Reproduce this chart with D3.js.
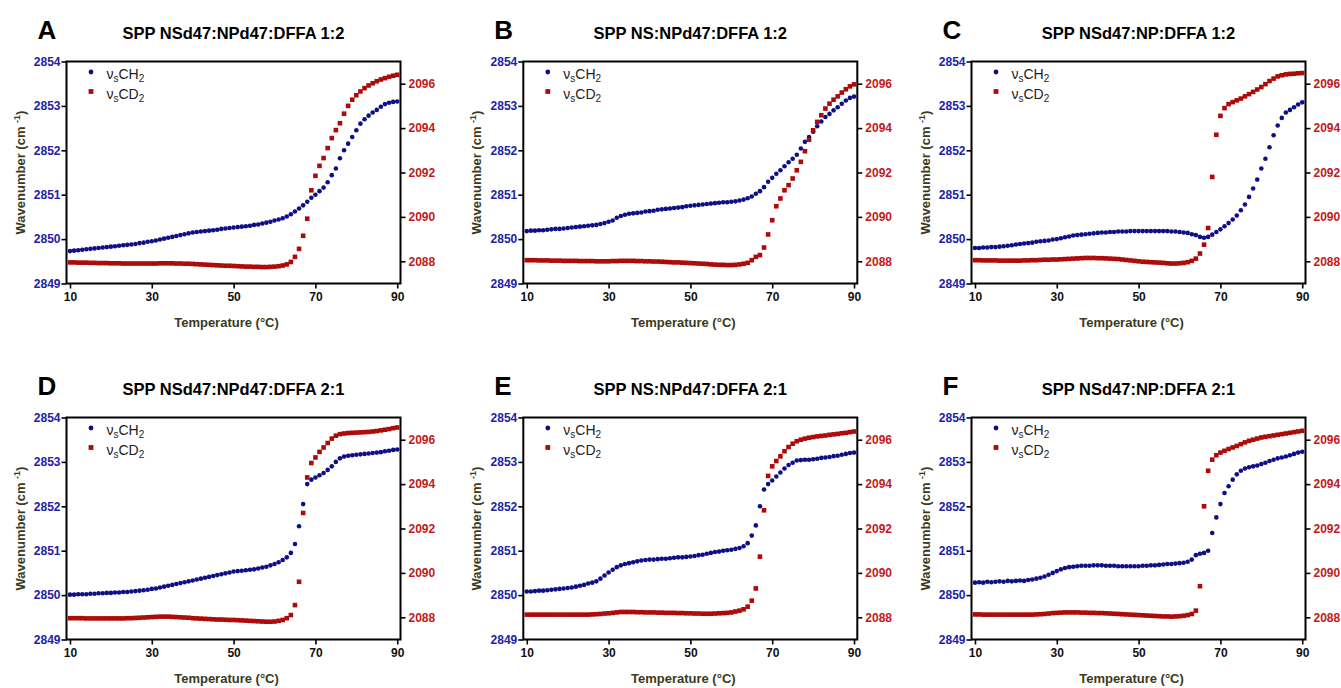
<!DOCTYPE html>
<html>
<head>
<meta charset="utf-8">
<script src="https://cdn.jsdelivr.net/npm/d3@7"></script>
<style>
  body { margin: 0; background: #fff; }
  svg { display: block; font-family: "Liberation Sans", Arial, sans-serif; }
</style>
</head>
<body>
<div id="chart"></div>
<script>
// temperatures (°C), shared by every panel
var temps = [10, 11, 12, 13, 14, 15, 16, 17, 18, 19, 20, 21, 22, 23, 24, 25, 26, 27, 28, 29,
  30, 31, 32, 33, 34, 35, 36, 37, 38, 39, 40, 41, 42, 43, 44, 45, 46, 47, 48, 49,
  50, 51, 52, 53, 54, 55, 56, 57, 58, 59, 60, 61, 62, 63, 64, 65, 66, 67, 68, 69,
  70, 71, 72, 73, 74, 75, 76, 77, 78, 79, 80, 81, 82, 83, 84, 85, 86, 87, 88, 89, 90];

// A: SPP NSd47:NPd47:DFFA 1:2
var aCH2 = [2849.73, 2849.74, 2849.75, 2849.76, 2849.77, 2849.78, 2849.79, 2849.80, 2849.81, 2849.82,
  2849.83, 2849.84, 2849.85, 2849.86, 2849.87, 2849.88, 2849.89, 2849.91, 2849.92, 2849.94,
  2849.95, 2849.97, 2849.99, 2850.01, 2850.03, 2850.05, 2850.07, 2850.09, 2850.11, 2850.13,
  2850.15, 2850.16, 2850.17, 2850.18, 2850.19, 2850.20, 2850.21, 2850.23, 2850.24, 2850.25,
  2850.26, 2850.27, 2850.28, 2850.29, 2850.30, 2850.32, 2850.33, 2850.35, 2850.37, 2850.39,
  2850.42, 2850.44, 2850.47, 2850.51, 2850.56, 2850.62, 2850.69, 2850.76, 2850.84, 2850.93,
  2851.00, 2851.08, 2851.16, 2851.28, 2851.44, 2851.59, 2851.82, 2852.00, 2852.15, 2852.30,
  2852.45, 2852.60, 2852.70, 2852.78, 2852.85, 2852.91, 2852.98, 2853.04, 2853.07, 2853.09, 2853.10];
var aCD2 = [2087.95, 2087.95, 2087.94, 2087.94, 2087.94, 2087.93, 2087.93, 2087.92, 2087.92, 2087.92,
  2087.91, 2087.91, 2087.91, 2087.90, 2087.90, 2087.90, 2087.90, 2087.90, 2087.90, 2087.90,
  2087.90, 2087.90, 2087.91, 2087.91, 2087.91, 2087.91, 2087.90, 2087.90, 2087.89, 2087.89,
  2087.88, 2087.87, 2087.86, 2087.85, 2087.84, 2087.83, 2087.82, 2087.81, 2087.80, 2087.80,
  2087.79, 2087.78, 2087.77, 2087.76, 2087.76, 2087.75, 2087.75, 2087.74, 2087.74, 2087.75,
  2087.76, 2087.78, 2087.81, 2087.86, 2087.97, 2088.20, 2088.56, 2089.15, 2089.92, 2091.20,
  2091.85, 2092.30, 2092.65, 2093.10, 2093.55, 2093.91, 2094.22, 2094.65, 2095.00, 2095.28,
  2095.48, 2095.65, 2095.80, 2095.92, 2096.02, 2096.11, 2096.19, 2096.25, 2096.31, 2096.36, 2096.40];

// B: SPP NS:NPd47:DFFA 1:2
var bCH2 = [2850.18, 2850.19, 2850.19, 2850.20, 2850.20, 2850.21, 2850.22, 2850.23, 2850.23, 2850.24,
  2850.25, 2850.26, 2850.27, 2850.28, 2850.29, 2850.30, 2850.31, 2850.32, 2850.34, 2850.36,
  2850.39, 2850.42, 2850.48, 2850.52, 2850.55, 2850.57, 2850.58, 2850.59, 2850.60, 2850.62,
  2850.63, 2850.64, 2850.66, 2850.67, 2850.68, 2850.69, 2850.70, 2850.71, 2850.72, 2850.74,
  2850.75, 2850.76, 2850.77, 2850.78, 2850.79, 2850.80, 2850.81, 2850.82, 2850.83, 2850.83,
  2850.84, 2850.85, 2850.87, 2850.89, 2850.92, 2850.96, 2851.02, 2851.08, 2851.17, 2851.29,
  2851.38, 2851.47, 2851.55, 2851.64, 2851.73, 2851.81, 2851.90, 2852.04, 2852.19, 2852.30,
  2852.42, 2852.54, 2852.65, 2852.75, 2852.82, 2852.90, 2852.97, 2853.05, 2853.12, 2853.18, 2853.21];
var bCD2 = [2088.05, 2088.05, 2088.05, 2088.04, 2088.04, 2088.04, 2088.03, 2088.03, 2088.03, 2088.02,
  2088.02, 2088.02, 2088.02, 2088.01, 2088.01, 2088.01, 2088.01, 2088.00, 2088.00, 2088.00,
  2088.00, 2088.01, 2088.01, 2088.02, 2088.02, 2088.02, 2088.02, 2088.01, 2088.01, 2088.00,
  2088.00, 2087.99, 2087.99, 2087.98, 2087.97, 2087.96, 2087.95, 2087.95, 2087.94, 2087.93,
  2087.92, 2087.91, 2087.90, 2087.89, 2087.88, 2087.86, 2087.85, 2087.84, 2087.84, 2087.83,
  2087.83, 2087.84, 2087.86, 2087.89, 2087.93, 2088.05, 2088.20, 2088.28, 2088.62, 2089.21,
  2089.85, 2090.48, 2090.83, 2091.20, 2091.43, 2091.73, 2092.10, 2092.48, 2092.96, 2093.48,
  2093.90, 2094.28, 2094.58, 2094.88, 2095.10, 2095.28, 2095.43, 2095.60, 2095.75, 2095.88, 2095.97];

// C: SPP NSd47:NP:DFFA 1:2
var cCH2 = [2849.80, 2849.80, 2849.81, 2849.81, 2849.82, 2849.82, 2849.83, 2849.84, 2849.85, 2849.86,
  2849.88, 2849.89, 2849.90, 2849.91, 2849.92, 2849.94, 2849.95, 2849.96, 2849.97, 2849.99,
  2850.00, 2850.02, 2850.04, 2850.06, 2850.08, 2850.09, 2850.10, 2850.11, 2850.12, 2850.13,
  2850.14, 2850.15, 2850.15, 2850.16, 2850.16, 2850.17, 2850.17, 2850.17, 2850.18, 2850.18,
  2850.18, 2850.18, 2850.18, 2850.18, 2850.18, 2850.18, 2850.18, 2850.18, 2850.17, 2850.17,
  2850.16, 2850.15, 2850.14, 2850.11, 2850.09, 2850.05, 2850.03, 2850.05, 2850.10, 2850.16,
  2850.22, 2850.29, 2850.36, 2850.44, 2850.53, 2850.65, 2850.78, 2850.95, 2851.14, 2851.34,
  2851.59, 2851.81, 2852.07, 2852.34, 2852.56, 2852.73, 2852.85, 2852.91, 2852.97, 2853.03, 2853.08];
var cCD2 = [2088.05, 2088.05, 2088.04, 2088.04, 2088.04, 2088.04, 2088.03, 2088.03, 2088.03, 2088.03,
  2088.03, 2088.03, 2088.04, 2088.04, 2088.05, 2088.05, 2088.06, 2088.07, 2088.07, 2088.08,
  2088.08, 2088.09, 2088.10, 2088.11, 2088.12, 2088.13, 2088.14, 2088.15, 2088.15, 2088.15,
  2088.14, 2088.14, 2088.13, 2088.12, 2088.11, 2088.10, 2088.08, 2088.06, 2088.04, 2088.02,
  2088.00, 2087.98, 2087.97, 2087.96, 2087.95, 2087.94, 2087.93, 2087.91, 2087.90, 2087.90,
  2087.91, 2087.93, 2087.96, 2088.02, 2088.12, 2088.35, 2088.75, 2089.50, 2091.80, 2093.70,
  2094.55, 2094.90, 2095.08, 2095.17, 2095.25, 2095.33, 2095.43, 2095.53, 2095.63, 2095.74,
  2095.85, 2095.98, 2096.12, 2096.23, 2096.33, 2096.38, 2096.42, 2096.44, 2096.45, 2096.47, 2096.48];

// D: SPP NSd47:NPd47:DFFA 2:1
var dCH2 = [2850.01, 2850.01, 2850.02, 2850.02, 2850.02, 2850.03, 2850.03, 2850.04, 2850.04, 2850.05,
  2850.05, 2850.06, 2850.06, 2850.07, 2850.07, 2850.08, 2850.09, 2850.10, 2850.11, 2850.12,
  2850.14, 2850.15, 2850.17, 2850.19, 2850.21, 2850.23, 2850.25, 2850.27, 2850.29, 2850.31,
  2850.33, 2850.35, 2850.37, 2850.39, 2850.41, 2850.43, 2850.45, 2850.47, 2850.49, 2850.51,
  2850.53, 2850.54, 2850.55, 2850.56, 2850.57, 2850.58, 2850.60, 2850.62, 2850.64, 2850.67,
  2850.70, 2850.74, 2850.79, 2850.85, 2850.95, 2851.15, 2851.55, 2852.05, 2852.50, 2852.60,
  2852.65, 2852.70, 2852.75, 2852.82, 2852.90, 2853.00, 2853.08, 2853.12, 2853.14, 2853.15,
  2853.16, 2853.17, 2853.18, 2853.19, 2853.20, 2853.21, 2853.22, 2853.24, 2853.25, 2853.27, 2853.28];
var dCD2 = [2087.96, 2087.96, 2087.96, 2087.96, 2087.95, 2087.95, 2087.95, 2087.95, 2087.95, 2087.95,
  2087.95, 2087.95, 2087.95, 2087.95, 2087.96, 2087.96, 2087.97, 2087.98, 2087.99, 2088.00,
  2088.01, 2088.02, 2088.03, 2088.03, 2088.03, 2088.02, 2088.01, 2088.00, 2087.99, 2087.98,
  2087.96, 2087.95, 2087.94, 2087.93, 2087.92, 2087.91, 2087.90, 2087.90, 2087.89, 2087.88,
  2087.88, 2087.87, 2087.86, 2087.85, 2087.84, 2087.83, 2087.82, 2087.81, 2087.80, 2087.80,
  2087.81, 2087.84, 2087.88, 2087.96, 2088.10, 2088.55, 2089.60, 2092.70, 2094.30, 2094.95,
  2095.20, 2095.45, 2095.65, 2095.85, 2096.05, 2096.18, 2096.25, 2096.28, 2096.30, 2096.31,
  2096.32, 2096.33, 2096.34, 2096.35, 2096.37, 2096.39, 2096.42, 2096.45, 2096.48, 2096.52, 2096.55];

// E: SPP NS:NPd47:DFFA 2:1
var eCH2 = [2850.08, 2850.08, 2850.09, 2850.10, 2850.10, 2850.11, 2850.12, 2850.13, 2850.14, 2850.15,
  2850.16, 2850.17, 2850.19, 2850.21, 2850.23, 2850.26, 2850.28, 2850.31, 2850.37, 2850.44,
  2850.51, 2850.57, 2850.63, 2850.67, 2850.70, 2850.72, 2850.74, 2850.76, 2850.78, 2850.79,
  2850.80, 2850.80, 2850.81, 2850.82, 2850.82, 2850.83, 2850.84, 2850.85, 2850.85, 2850.86,
  2850.87, 2850.88, 2850.90, 2850.91, 2850.93, 2850.95, 2850.97, 2850.98, 2851.00, 2851.01,
  2851.02, 2851.04, 2851.06, 2851.10, 2851.17, 2851.34, 2851.57, 2852.00, 2852.38, 2852.50,
  2852.58, 2852.67, 2852.76, 2852.85, 2852.93, 2852.98, 2853.03, 2853.04, 2853.05, 2853.05,
  2853.06, 2853.07, 2853.09, 2853.10, 2853.11, 2853.13, 2853.14, 2853.16, 2853.18, 2853.20, 2853.21];
var eCD2 = [2088.12, 2088.12, 2088.12, 2088.12, 2088.12, 2088.12, 2088.12, 2088.12, 2088.12, 2088.12,
  2088.12, 2088.12, 2088.12, 2088.12, 2088.12, 2088.12, 2088.13, 2088.14, 2088.15, 2088.17,
  2088.18, 2088.20, 2088.22, 2088.24, 2088.24, 2088.24, 2088.24, 2088.23, 2088.23, 2088.22,
  2088.22, 2088.22, 2088.21, 2088.21, 2088.20, 2088.20, 2088.20, 2088.19, 2088.19, 2088.18,
  2088.18, 2088.17, 2088.17, 2088.16, 2088.16, 2088.16, 2088.17, 2088.18, 2088.19, 2088.20,
  2088.22, 2088.26, 2088.30, 2088.36, 2088.48, 2088.75, 2089.30, 2090.73, 2092.82, 2094.37,
  2094.80, 2095.04, 2095.25, 2095.48, 2095.67, 2095.82, 2095.93, 2096.00, 2096.05, 2096.09,
  2096.12, 2096.15, 2096.17, 2096.19, 2096.22, 2096.24, 2096.26, 2096.29, 2096.31, 2096.34, 2096.37];

// F: SPP NSd47:NP:DFFA 2:1
var fCH2 = [2850.28, 2850.29, 2850.28, 2850.30, 2850.29, 2850.30, 2850.31, 2850.30, 2850.32, 2850.31,
  2850.32, 2850.33, 2850.32, 2850.34, 2850.35, 2850.37, 2850.39, 2850.42, 2850.46, 2850.50,
  2850.54, 2850.58, 2850.61, 2850.63, 2850.64, 2850.65, 2850.66, 2850.66, 2850.66, 2850.67,
  2850.67, 2850.67, 2850.66, 2850.66, 2850.66, 2850.65, 2850.65, 2850.65, 2850.65, 2850.65,
  2850.65, 2850.66, 2850.66, 2850.67, 2850.67, 2850.68, 2850.69, 2850.70, 2850.70, 2850.71,
  2850.72, 2850.73, 2850.75, 2850.80, 2850.90, 2850.93, 2850.95, 2851.00, 2851.40, 2851.75,
  2852.05, 2852.30, 2852.45, 2852.60, 2852.72, 2852.80, 2852.85, 2852.88, 2852.90, 2852.92,
  2852.95, 2852.98, 2853.02, 2853.05, 2853.08, 2853.10, 2853.12, 2853.15, 2853.18, 2853.21, 2853.23];
var fCD2 = [2088.13, 2088.13, 2088.12, 2088.12, 2088.12, 2088.12, 2088.12, 2088.12, 2088.12, 2088.12,
  2088.12, 2088.12, 2088.12, 2088.12, 2088.12, 2088.13, 2088.14, 2088.15, 2088.17, 2088.19,
  2088.20, 2088.21, 2088.22, 2088.22, 2088.22, 2088.22, 2088.21, 2088.21, 2088.20, 2088.20,
  2088.19, 2088.19, 2088.18, 2088.17, 2088.16, 2088.15, 2088.14, 2088.13, 2088.12, 2088.11,
  2088.10, 2088.09, 2088.08, 2088.07, 2088.06, 2088.05, 2088.04, 2088.04, 2088.03, 2088.04,
  2088.05, 2088.07, 2088.10, 2088.15, 2088.30, 2089.40, 2093.00, 2094.60, 2095.10, 2095.30,
  2095.42, 2095.50, 2095.58, 2095.65, 2095.72, 2095.80, 2095.88, 2095.95, 2096.00, 2096.05,
  2096.10, 2096.13, 2096.16, 2096.19, 2096.22, 2096.25, 2096.28, 2096.31, 2096.34, 2096.37, 2096.40];

var panelLetters = ["A", "B", "C", "D", "E", "F"];
var panelTitles = ["SPP NSd47:NPd47:DFFA 1:2", "SPP NS:NPd47:DFFA 1:2", "SPP NSd47:NP:DFFA 1:2",
  "SPP NSd47:NPd47:DFFA 2:1", "SPP NS:NPd47:DFFA 2:1", "SPP NSd47:NP:DFFA 2:1"];
var ch2Series = [aCH2, bCH2, cCH2, dCH2, eCH2, fCH2];
var cd2Series = [aCD2, bCD2, cCD2, dCD2, eCD2, fCD2];

var xTicks = [10, 30, 50, 70, 90];
var leftTicks = [2849, 2850, 2851, 2852, 2853, 2854];
var rightTicks = [2088, 2090, 2092, 2094, 2096];

var blue = "#0e0e86", red = "#ad0a0a";
var blueText = "#2222a8", redText = "#c21a1a", axisTitle = "#3a3a1c";

var W = 1341, H = 688;
var pw = 334, ph = 222;
var lefts = [66.5, 523.3, 971.5], tops = [61.5, 417.5];

var svg = d3.select("#chart").append("svg").attr("width", W).attr("height", H);

var x = d3.scaleLinear().domain([9.15, 90.8]).range([0, pw]);
var yL = d3.scaleLinear().domain([2849, 2854]).range([ph, 0]);
var yR = d3.scaleLinear().domain([2087, 2097]).range([ph, 0]);

panelTitles.forEach(function(title, i) {
  var col = i % 3, row = Math.floor(i / 3);
  var g = svg.append("g").attr("transform", "translate(" + lefts[col] + "," + tops[row] + ")");

  // letter + title
  g.append("text").attr("x", -29).attr("y", -22.5)
    .style("font-size", "26px").style("font-weight", "bold").text(panelLetters[i]);
  g.append("text").attr("x", pw / 2).attr("y", -22.5).attr("text-anchor", "middle")
    .style("font-size", "16.5px").style("font-weight", "bold").text(title);

  // axes
  var ax = g.append("g").attr("transform", "translate(0," + ph + ")")
    .call(d3.axisBottom(x).tickValues(xTicks).tickSize(5).tickPadding(4));
  ax.selectAll("text").style("font-size", "12px").style("font-weight", "bold").attr("fill", "#111");

  var al = g.append("g").call(d3.axisLeft(yL).tickValues(leftTicks).tickFormat(d3.format("d")).tickSize(5).tickPadding(1));
  al.selectAll("text").style("font-size", "12px").style("font-weight", "bold").attr("fill", blueText);

  var ar = g.append("g").attr("transform", "translate(" + pw + ",0)")
    .call(d3.axisRight(yR).tickValues(rightTicks).tickFormat(d3.format("d")).tickSize(5).tickPadding(3));
  ar.selectAll("text").style("font-size", "12px").style("font-weight", "bold").attr("fill", redText);

  [ax, al, ar].forEach(function(a) {
    a.select(".domain").remove();
    a.selectAll(".tick line").attr("stroke", "#000").attr("stroke-width", 1.6);
  });

  g.append("rect").attr("width", pw).attr("height", ph)
    .attr("fill", "none").attr("stroke", "#000").attr("stroke-width", 2);

  // axis titles
  g.append("text").attr("x", pw / 2 - 7).attr("y", ph + 43).attr("text-anchor", "middle")
    .style("font-size", "13px").style("font-weight", "bold").attr("fill", axisTitle)
    .text("Temperature (°C)");
  var yt = g.append("text").attr("transform", "translate(-42," + (ph / 2) + ") rotate(-90)")
    .attr("text-anchor", "middle").style("font-size", "13px").style("font-weight", "bold")
    .attr("fill", axisTitle);
  yt.append("tspan").text("Wavenumber (cm ");
  yt.append("tspan").attr("dy", -5).style("font-size", "9px").text("-1");
  yt.append("tspan").attr("dy", 5).text(")");

  // data
  var ch2 = ch2Series[i], cd2 = cd2Series[i];
  g.append("g").selectAll("circle").data(temps).enter().append("circle")
    .attr("cx", function(t) { return x(t); })
    .attr("cy", function(t, k) { return yL(ch2[k]); })
    .attr("r", 2.3).attr("fill", blue);
  g.append("g").selectAll("rect").data(temps).enter().append("rect")
    .attr("x", function(t) { return x(t) - 2.3; })
    .attr("y", function(t, k) { return yR(cd2[k]) - 2.3; })
    .attr("width", 4.6).attr("height", 4.6).attr("fill", red);

  // legend
  var lg = g.append("g").attr("transform", "translate(24.5,0)");
  lg.append("circle").attr("cx", 0).attr("cy", 10.5).attr("r", 2.4).attr("fill", blue);
  lg.append("rect").attr("x", -2.4).attr("y", 27.6).attr("width", 4.8).attr("height", 4.8).attr("fill", red);
  [["CH", 17], ["CD", 37]].forEach(function(l) {
    var t = lg.append("text").attr("x", 15.5).attr("y", l[1]).style("font-size", "14px").attr("fill", "#222");
    t.append("tspan").text("\u03bd");
    t.append("tspan").attr("dy", 3).style("font-size", "10px").text("s");
    t.append("tspan").attr("dy", -3).text(l[0]);
    t.append("tspan").attr("dy", 3).style("font-size", "10px").text("2");
  });
});
</script>
</body>
</html>
